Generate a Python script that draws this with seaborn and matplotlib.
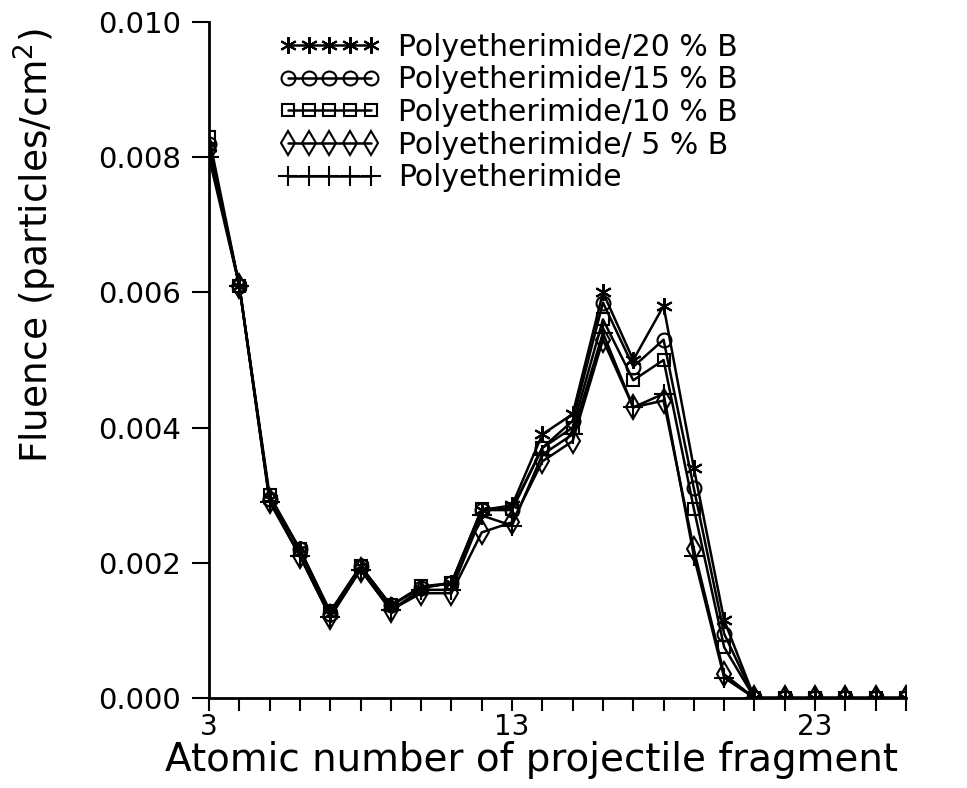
import numpy as np
import pandas as pd
import matplotlib
matplotlib.use("Agg")
import matplotlib.pyplot as plt
import seaborn as sns

# Data
z = list(range(3, 27))
labels = ["Polyetherimide/20 % B", "Polyetherimide/15 % B", "Polyetherimide/10 % B",
          "Polyetherimide/ 5 % B", "Polyetherimide"]
pei20 = [0.00815, 0.0061, 0.00295, 0.0022, 0.00125, 0.00195, 0.00137, 0.00163, 0.0017, 0.00278,
         0.00285, 0.0039, 0.0042, 0.0060, 0.0050, 0.0058, 0.0034, 0.00115, 0, 0, 0, 0, 0, 0]
pei15 = [0.0082, 0.0061, 0.00295, 0.0022, 0.00125, 0.00195, 0.00137, 0.00163, 0.0017, 0.00278,
         0.00278, 0.0037, 0.0041, 0.00585, 0.0049, 0.0053, 0.0031, 0.00095, 0, 0, 0, 0, 0, 0]
pei10 = [0.0083, 0.0061, 0.0030, 0.0022, 0.00128, 0.00195, 0.00137, 0.00165, 0.0017, 0.0028,
         0.0028, 0.0037, 0.0040, 0.0056, 0.0047, 0.0050, 0.0028, 0.00075, 0, 0, 0, 0, 0, 0]
pei5 = [0.0081, 0.0061, 0.00292, 0.0021, 0.0012, 0.0019, 0.0013, 0.00155, 0.00155, 0.00245,
        0.0026, 0.0035, 0.0038, 0.0053, 0.0043, 0.0044, 0.0022, 0.00035, 0, 0, 0, 0, 0, 0]
pei0 = [0.0080, 0.0061, 0.0029, 0.0021, 0.0012, 0.0019, 0.0013, 0.0016, 0.0016, 0.0027,
        0.00255, 0.0036, 0.0039, 0.0054, 0.0043, 0.0045, 0.0021, 0.0003, 0, 0, 0, 0, 0, 0]
series = [pei20, pei15, pei10, pei5, pei0]
markers = [(6, 2, 0), "o", "s", "d", "+"]
msizes = [12, 10, 9, 12, 14]

sns.set_theme(style="ticks")
plt.rcParams['font.family'] = ['DejaVu Sans']

fig = plt.figure(figsize=(9.67, 7.88), dpi=100)
ax = fig.add_axes([209/967, 1-698/788, (906-209)/967, (698-22)/788])

for lab, vals, mk, ms in zip(labels, series, markers, msizes):
    df = pd.DataFrame({"z": z, "f": vals})
    sns.lineplot(data=df, x="z", y="f", ax=ax, color="black", linewidth=1.8,
                 marker=mk, markersize=ms, markerfacecolor="none",
                 markeredgecolor="black", markeredgewidth=1.5, label=lab)

ax.set_xlim(3, 26)
ax.set_ylim(0, 0.010)
ax.set_xticks(z)
ax.set_xticklabels([str(v) if v in (3, 13, 23) else "" for v in z])
ax.set_yticks([0, 0.002, 0.004, 0.006, 0.008, 0.010])
ax.set_yticklabels(["0.000", "0.002", "0.004", "0.006", "0.008", "0.010"])
ax.tick_params(axis="both", direction="out", colors="black", labelsize=21,
               width=1.5, length=9, pad=3)
ax.tick_params(axis="x", labelsize=20, pad=2)
ax.tick_params(axis="y", length=12, pad=8)
for s in ["top", "right"]:
    ax.spines[s].set_visible(False)
for s in ["left", "bottom"]:
    ax.spines[s].set_linewidth(2)
    ax.spines[s].set_color("black")

ax.set_xlabel("Atomic number of projectile fragment", fontsize=28, color="black")
ax.set_ylabel("Fluence (particles/cm$^2$)", fontsize=27, color="black")
ax.yaxis.set_label_coords(-0.215, 0.67)
ax.xaxis.set_label_coords(0.462, -0.063)
ax.xaxis.label.set_verticalalignment("top")

leg = ax.legend(loc="upper left", bbox_to_anchor=(0.07, 1.015), numpoints=5, frameon=False,
                fontsize=21.5, handlelength=3.4, handletextpad=0.6, labelspacing=0.12,
                borderaxespad=0.3)
for t in leg.get_texts():
    t.set_color("black")

fig.savefig("out.png", dpi=100, facecolor="white")
